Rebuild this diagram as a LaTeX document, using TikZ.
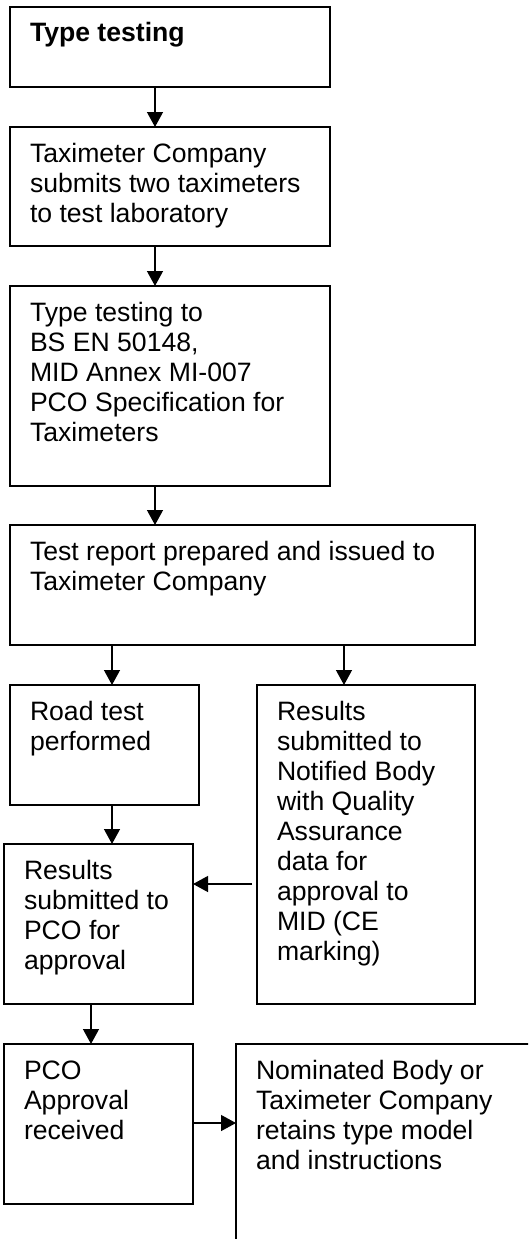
\documentclass[tikz,border=0pt]{standalone}
\usepackage{fontspec}
\setmainfont{Liberation Sans}
\usetikzlibrary{arrows.meta}
\usetikzlibrary{calc}
\newcommand{\boxtext}[3]{\parbox[t][#2][t]{#1}{\raggedright\strut#3}}

\begin{document}
\begin{tikzpicture}[x=1pt, y=-1pt,
    box/.style={draw=black, line width=1.3pt, anchor=north west, inner xsep=20pt, inner ysep=14pt, outer sep=0pt, font=\fontsize{26.6}{30}\selectfont},
    arr/.style={-{Triangle[length=15pt,width=16pt]}, line width=1.3pt}]
        \useasboundingbox (0,0) rectangle (528,1239);
        \clip (0,0) rectangle (528,1239);
        % \draw[help lines, gray] (0,0) grid[step=50] (528,1239);
        \node[box] (T) at (10,7) {\boxtext{280pt}{52pt}{\textbf{Type testing}}};
        \node[box] (S) at (10,127) {\boxtext{280pt}{91pt}{Taximeter Company\\submits two taximeters\\to test laboratory}};
        \node[box] (TT) at (10,286) {\boxtext{280pt}{172pt}{Type testing to\\BS EN 50148,\\MID Annex MI-007\\PCO Specification for\\Taximeters}};
        \node[box] (R) at (10,525) {\boxtext{425pt}{92pt}{Test report prepared and issued to\\Taximeter Company}};
        \node[box] (RT) at (10,685) {\boxtext{149pt}{92pt}{Road test\\performed}};
        \node[box] (NB) at (257,685) {\boxtext{178pt}{291pt}{Results\\submitted to\\Notified Body\\with Quality\\Assurance\\data for\\approval to\\MID (CE\\marking)}};
        \node[box] (P) at (4,844) {\boxtext{149pt}{132pt}{Results\\submitted to\\PCO for\\approval}};
        \node[box] (A) at (4,1044) {\boxtext{149pt}{132pt}{PCO\\Approval\\received}};
        \node[box] (K) at (236,1044) {\boxtext{290pt}{232pt}{Nominated Body or\\Taximeter Company\\retains type model\\and instructions}};

        \draw[arr] ($(T.south west)+(145,0)$) -- ($(S.north west)+(145,0)$);
        \draw[arr] ($(S.south west)+(145,0)$) -- ($(TT.north west)+(145,0)$);
        \draw[arr] ($(TT.south west)+(145,0)$) -- ($(R.north west)+(145,0)$);
        \draw[arr] ($(R.south west)+(102,0)$) -- ($(RT.north west)+(102,0)$);
        \draw[arr] ($(R.south west)+(334,0)$) -- ($(NB.north west)+(87,0)$);
        \draw[arr] ($(RT.south west)+(102,0)$) -- ($(P.north west)+(108,0)$);
        \draw[arr] ($(NB.north west)+(-5,199)$) -- ($(P.north east)+(0,40)$);
        \draw[arr] ($(P.south west)+(87,0)$) -- ($(A.north west)+(87,0)$);
        \draw[arr] ($(A.north east)+(0,79)$) -- ($(K.north west)+(0,79)$);

    \end{tikzpicture}
\end{document}
